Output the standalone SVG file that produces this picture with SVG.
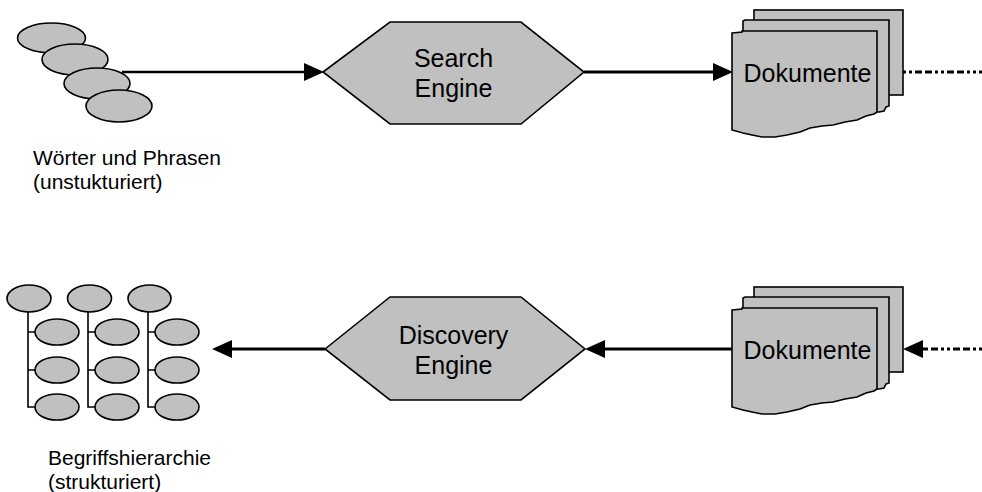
<svg xmlns="http://www.w3.org/2000/svg" width="982" height="492" viewBox="0 0 982 492">
<style>
.sh{fill:#c0c0c0;stroke:#000;stroke-width:1.6;stroke-linejoin:miter}
.t{font-family:"Liberation Sans",Arial,sans-serif;fill:#000}
.big{font-size:25px;text-anchor:middle}
.lab{font-size:21px}
.ln{stroke:#000;fill:none}
.dot{stroke:#000;stroke-width:3;stroke-dasharray:3 3 3 3 7 3 7 3}
</style>
<defs>
<marker id="ah" markerUnits="userSpaceOnUse" viewBox="0 0 20 18" refX="0" refY="9" markerWidth="20" markerHeight="18" orient="auto">
<path d="M0,0 L20,9 L0,18 Z" fill="#000"/>
</marker>
<g id="docs">
<rect class="sh" x="754" y="10" width="149" height="85"/>
<path class="sh" d="M743,21 L745,20 H889 V106 L886,107 L884,111 L879,112 L743,112 Z"/>
<path class="sh" d="M732,33 L742,32 L742,31 H877 V112 L874,114 L866,116 L857,120 L845,122 L833,125 L822,126 L810,128 L800,132 L787,135 L775,137 L762,137 L752,135 L743,133 L732,130 Z"/>
</g>
</defs>

<g id="connectors">
<line class="ln" x1="122" y1="72" x2="304" y2="72" stroke-width="2.4" marker-end="url(#ah)"/>
<line class="ln" x1="584" y1="72" x2="713" y2="72" stroke-width="3" marker-end="url(#ah)"/>
<line class="dot" x1="903" y1="72" x2="982" y2="72"/>
<line class="dot" x1="982" y1="349" x2="923" y2="349" marker-end="url(#ah)"/>
<line class="ln" x1="732" y1="349" x2="605" y2="349" stroke-width="3" marker-end="url(#ah)"/>
<line class="ln" x1="325" y1="349" x2="232" y2="349" stroke-width="3" marker-end="url(#ah)"/>
</g>

<g id="woerter">
<ellipse class="sh" cx="51.5" cy="38" rx="34" ry="15"/>
<ellipse class="sh" cx="75" cy="59.5" rx="33" ry="15.5"/>
<ellipse class="sh" cx="97" cy="83.5" rx="33" ry="15.5"/>
<ellipse class="sh" cx="119" cy="106" rx="33" ry="16"/>
<text class="t lab" x="33" y="165">Wörter und Phrasen</text>
<text class="t lab" x="33" y="189">(unstukturiert)</text>
</g>

<g id="search-engine">
<polygon class="sh" points="323,72 390,22 521,22 584,72 521,124 390,124"/>
<text class="t big" x="453.5" y="67">Search</text>
<text class="t big" x="453.5" y="97">Engine</text>
</g>

<g id="dokumente-oben">
<use href="#docs"/>
<text class="t big" x="807.5" y="82">Dokumente</text>
</g>

<g id="dokumente-unten">
<use href="#docs" transform="translate(0,277)"/>
<text class="t big" x="807.5" y="359">Dokumente</text>
</g>

<g id="discovery-engine">
<polygon class="sh" points="325,349 390,297 521,297 585,349 521,400 390,400"/>
<text class="t big" x="453.5" y="344">Discovery</text>
<text class="t big" x="453.5" y="374">Engine</text>
</g>

<g id="begriffshierarchie">
<g class="ln" stroke-width="1.6">
<path d="M28,312 V407 H35 M28,332 H35 M28,370 H35"/>
<path d="M88,312 V407 H95 M88,332 H95 M88,370 H95"/>
<path d="M148,312 V407 H155 M148,332 H155 M148,370 H155"/>
</g>
<ellipse class="sh" cx="29" cy="298.5" rx="22" ry="13.5"/>
<ellipse class="sh" cx="89.5" cy="298.5" rx="22" ry="13.5"/>
<ellipse class="sh" cx="149.5" cy="298.5" rx="21.5" ry="13.5"/>
<ellipse class="sh" cx="57" cy="332" rx="22" ry="13"/>
<ellipse class="sh" cx="57" cy="370" rx="22" ry="13"/>
<ellipse class="sh" cx="57" cy="407" rx="22" ry="13"/>
<ellipse class="sh" cx="117" cy="332" rx="22" ry="13"/>
<ellipse class="sh" cx="117" cy="370" rx="22" ry="13"/>
<ellipse class="sh" cx="117" cy="407" rx="22" ry="13"/>
<ellipse class="sh" cx="177" cy="332" rx="22" ry="13"/>
<ellipse class="sh" cx="177" cy="370" rx="22" ry="13"/>
<ellipse class="sh" cx="177" cy="407" rx="22" ry="13"/>
<text class="t lab" x="48" y="465">Begriffshierarchie</text>
<text class="t lab" x="48" y="489">(strukturiert)</text>
</g>
</svg>
